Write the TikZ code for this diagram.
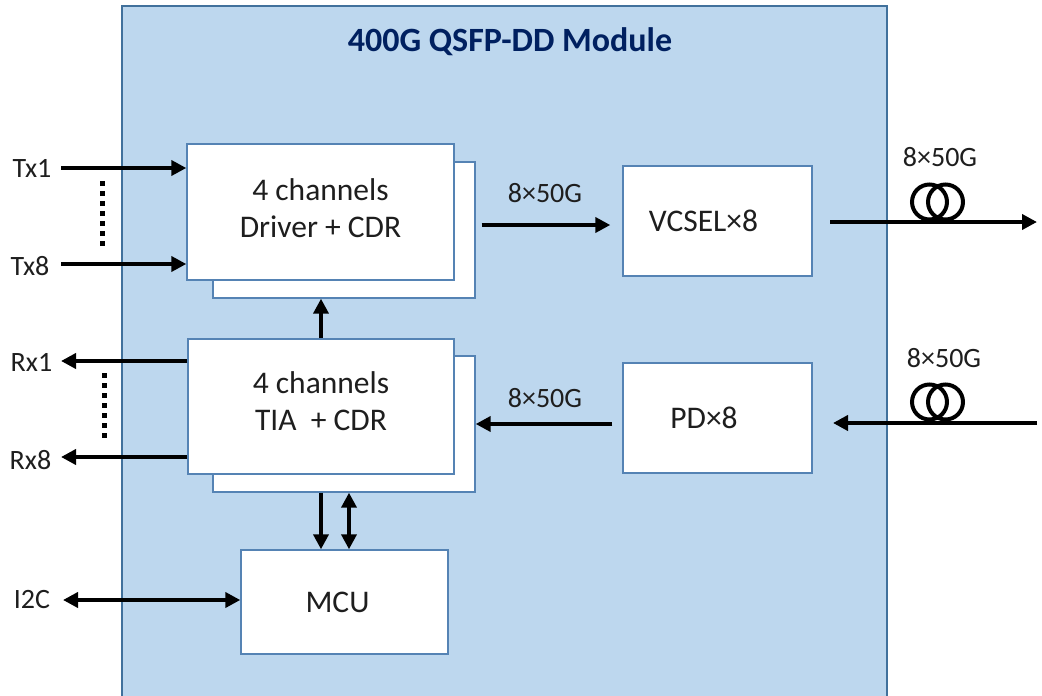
\documentclass[tikz,border=0pt]{standalone}
\usepackage{fontspec}
\setmainfont{Carlito}
\usetikzlibrary{arrows.meta,calc}
\definecolor{bgblue}{HTML}{BDD7EE}
\definecolor{edgeblue}{HTML}{41719C}
\definecolor{boxedge}{HTML}{5583B4}
\definecolor{navy}{HTML}{002060}
\definecolor{txt}{HTML}{1E1E1E}
\tikzset{
  box/.style={draw=boxedge, line width=1.4pt, fill=white, inner sep=0pt, align=center,
              text=txt, font=\fontsize{31.5}{37}\selectfont},
  lbl/.style={font=\fontsize{28}{32}\selectfont, inner sep=0pt, text=txt},
  rate/.style={font=\fontsize{28}{32}\selectfont, inner sep=0pt, text=txt},
  arr/.style={line width=4pt, -{Triangle[length=15pt,width=15pt]}},
  darr/.style={line width=4pt, {Triangle[length=15pt,width=15pt]}-{Triangle[length=15pt,width=15pt]}},
  dotline/.style={line width=5pt, dash pattern=on 5pt off 5pt},
  coil/.style={line width=4pt}
}
\begin{document}
\begin{tikzpicture}[x=1pt,y=-1pt]
\useasboundingbox (0,0) rectangle (1042,696);
% module body
\draw[draw=edgeblue, fill=bgblue, line width=1.4pt] (122,6) rectangle (887,720);
\node[font=\bfseries\fontsize{34}{40}\selectfont, text=navy, inner sep=0pt] (title) at (510,42) {400G QSFP-DD Module};

% driver boxes
\node[box, minimum width=262pt, minimum height=136pt] (drvback) at (344,230) {};
\node[box, minimum width=267pt, minimum height=136pt] (drv) at (320.5,212) {4 channels\\Driver + CDR\\[-30pt]};
% TIA boxes
\node[box, minimum width=262pt, minimum height=136pt] (tiaback) at (344,424) {};
\node[box, minimum width=266pt, minimum height=135pt] (tia) at (321,406.5) {4 channels\\TIA\ \ + CDR\\[-27pt]};
% optical boxes
\node[box, minimum width=189pt, minimum height=110pt] (vcsel) at (717.5,221) {VCSEL×8\hspace*{28pt}};
\node[box, minimum width=189pt, minimum height=110pt] (pd) at (717.5,418) {PD×8\hspace*{27pt}};
% MCU
\node[box, minimum width=207pt, minimum height=104pt] (mcu) at (344.5,602) {MCU\hspace*{14pt}};

% electrical side labels
\node[lbl] (tx1) at (32,168) {Tx1};
\node[lbl] (tx8) at (30,266) {Tx8};
\node[lbl] (rx1) at (31.5,362) {Rx1};
\node[lbl] (rx8) at (30.5,460) {Rx8};
\node[lbl] (i2c) at (32,600) {I2C};

\coordinate (tx1s) at (61,168);
\coordinate (tx8s) at (61,264);
\coordinate (rx1s) at (61,361);
\coordinate (rx8s) at (61,457);
\coordinate (i2cs) at (63,600);

\draw[arr] (tx1s) -- (tx1s -| drv.west);
\draw[arr] (tx8s) -- (tx8s -| drv.west);
\draw[arr] (rx1s -| tia.west) -- (rx1s);
\draw[arr] (rx8s -| tia.west) -- (rx8s);
\draw[darr] (i2cs) -- (i2cs -| mcu.west);

% dotted lines
\coordinate (dt1) at (102,181);
\coordinate (dt2) at (102,248);
\coordinate (dr1) at (104,373);
\coordinate (dr2) at (104,440);
\draw[dotline] (dt1) -- (dt2);
\draw[dotline] (dr1) -- (dr2);

% internal arrows
\draw[arr] (tia.north) -- (tia.north |- drvback.south);
\draw[arr] (tia.south |- tiaback.south) -- (tia.south |- mcu.north);
\draw[darr] ([xshift=4.5pt]mcu.north |- tiaback.south) -- ([xshift=4.5pt]mcu.north);

\coordinate (d2v) at (0,225);
\draw[arr] ([xshift=6pt]drvback.east |- d2v) -- ([xshift=-12pt]vcsel.west |- d2v);
\node[rate] (r1) at (545,193) {8×50G};

\draw[arr] ([xshift=-10pt]pd.west |- tiaback.east) -- (tiaback.east);
\node[rate] (r2) at (545,398) {8×50G};

% optical output
\coordinate (outs) at (830,222);
\coordinate (oute) at (1037,222);
\draw[arr] (outs) -- (oute);
\draw[coil] (929.5,202) circle[radius=17.5] (945.5,202) circle[radius=17.5];
\node[rate] (r3) at (940,157) {8×50G};

% optical input
\coordinate (ins) at (1037,423);
\coordinate (ine) at (833,423);
\draw[arr] (ins) -- (ine);
\draw[coil] (929.5,402) circle[radius=17.5] (945.5,402) circle[radius=17.5];
\node[rate] (r4) at (944,358) {8×50G};
\end{tikzpicture}
\end{document}
